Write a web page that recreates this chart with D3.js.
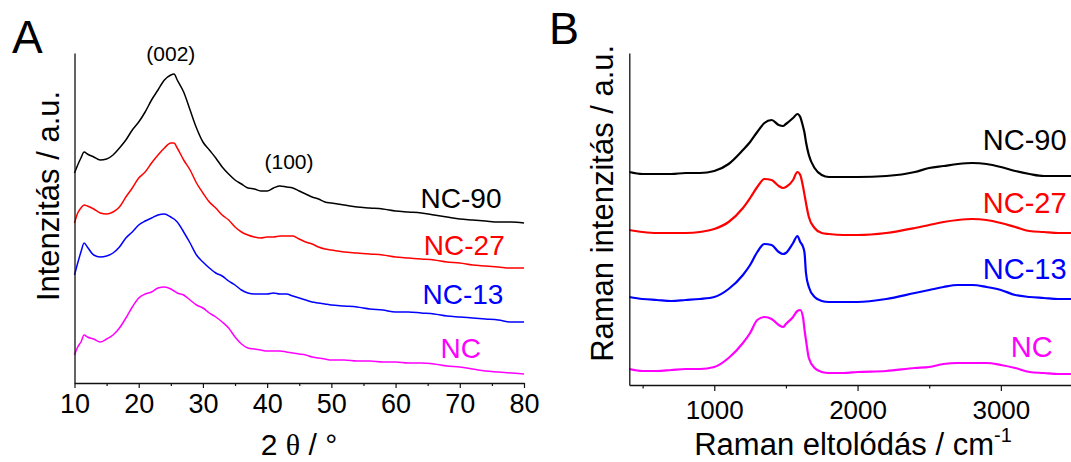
<!DOCTYPE html>
<html>
<head>
<meta charset="utf-8">
<script src="https://cdn.jsdelivr.net/npm/d3@7"></script>
<style>
  body { margin: 0; background: #fff; }
  text { font-family: "Liberation Sans", Arial, sans-serif; }
</style>
</head>
<body>
<script>
// XRD (panel A)
var xrdTheta = [10, 10.5, 11, 11.5, 12, 13, 14, 15, 16, 17, 18, 19, 20, 21, 22, 23, 24, 25, 25.5, 26, 27, 28, 29, 30,
  31, 32, 33, 34, 35, 36, 37, 38, 39, 40, 41, 42, 43, 44, 45, 46, 47, 48, 49, 50,
  52, 54, 56, 58, 60, 62, 64, 66, 68, 70, 72, 74, 76, 78, 80];
var xrdNC90 = [210, 218, 225, 231, 229, 226, 223, 224, 228, 235, 243, 253, 261, 271, 283, 293, 303, 308, 309, 303, 291, 273, 255, 241,
  233, 225, 216, 209, 203, 199, 195, 194, 192, 192, 195, 197, 196, 195, 192, 189, 186, 184, 181, 180,
  178, 176, 175, 174, 172, 171, 170, 168, 166, 164, 163, 162, 161, 161, 160];
var xrdNC27 = [160, 170, 175, 178, 177, 174, 170, 169, 171, 176, 186, 195, 205, 211, 220, 228, 235, 240, 240, 235, 223, 213, 200, 190,
  181, 175, 168, 163, 156, 151, 148, 146, 145, 146, 146, 147, 147, 147, 144, 141, 139, 136, 134, 133,
  131, 130, 129, 128, 126, 125, 124, 123, 121, 120, 118, 117, 116, 115, 115];
var xrdNC13 = [108, 120, 131, 140, 136, 128, 126, 127, 130, 136, 145, 151, 158, 162, 165, 168, 169, 166, 164, 161, 151, 140, 128, 121,
  115, 110, 107, 102, 98, 93, 90, 89, 89, 89, 90, 89, 89, 87, 85, 83, 81, 80, 79, 78,
  77, 76, 74, 73, 71, 71, 70, 69, 67, 66, 65, 64, 63, 61, 61];
var xrdNC = [28, 36, 41, 48, 46, 44, 41, 44, 48, 55, 65, 76, 85, 89, 91, 95, 96, 94, 92, 90, 88, 83, 78, 75,
  70, 66, 61, 55, 46, 39, 35, 34, 33, 32, 32, 32, 31, 30, 29, 28, 26, 25, 24, 23,
  23, 22, 22, 21, 21, 20, 20, 19, 17, 16, 14, 12, 11, 10, 9];
var xrdTicks = [10, 15, 20, 25, 30, 35, 40, 45, 50, 55, 60, 65, 70, 75, 80];

// Raman (panel B)
var ramanShift = [407, 500, 600, 700, 800, 900, 1000, 1100, 1200, 1250, 1300, 1350, 1400, 1450, 1480, 1500, 1550, 1580, 1600,
  1620, 1630, 1640, 1660, 1700, 1750, 1800, 1900, 2000, 2200, 2400, 2500, 2600, 2700, 2800, 2900, 3000, 3100, 3200, 3300, 3400, 3500];
var ramanNC90 = [213, 211, 211, 211, 212, 212, 214, 221, 235, 243, 253, 262, 265, 260, 259, 261, 267, 271, 268,
  258, 252, 243, 230, 217, 210, 208, 208, 208, 209, 213, 217, 219, 221, 222, 221, 218, 214, 211, 209, 209, 209];
var ramanNC27 = [155, 153, 152, 152, 152, 153, 156, 163, 177, 187, 198, 206, 205, 199, 197, 198, 205, 213, 210,
  198, 190, 182, 168, 157, 152, 151, 150, 150, 152, 157, 160, 163, 165, 166, 165, 162, 158, 154, 153, 152, 152];
var ramanNC13 = [88, 86, 85, 84, 85, 86, 88, 96, 110, 120, 133, 141, 140, 133, 131, 132, 142, 149, 143,
  138, 132, 112, 98, 88, 84, 83, 83, 83, 86, 92, 95, 98, 100, 100, 98, 95, 90, 88, 87, 86, 86];
var ramanNC = [16, 14, 14, 15, 16, 16, 18, 27, 42, 52, 65, 68, 66, 60, 58, 61, 68, 74, 75,
  67, 55, 45, 27, 17, 13, 12, 12, 13, 14, 17, 18, 21, 22, 22, 22, 20, 17, 13, 12, 11, 11];
var ramanTicks = [500, 1000, 1500, 2000, 2500, 3000, 3500];

var seriesNames = ["NC-90", "NC-27", "NC-13", "NC"];
var seriesColors = ["#000000", "#ff0000", "#0000ff", "#ff00ff"];

var width = 1071;
var height = 462;

var svg = d3.select("body").append("svg")
  .attr("width", width)
  .attr("height", height);

var drawPanel = function(p)
{
  var xScale = d3.scaleLinear().domain(p.xDomain).range(p.xRange);
  var yScale = d3.scaleLinear().domain(p.yDomain).range(p.yRange);

  var g = svg.append("g");

  var line = d3.line()
    .x(function(d){ return xScale(d[0]); })
    .y(function(d){ return yScale(d[1]); })
    .curve(d3.curveMonotoneX);

  p.series.forEach(function(vals, i){
    g.append("path")
      .datum(p.x.map(function(v, j){ return [v, vals[j]]; }))
      .attr("fill", "none")
      .attr("stroke", seriesColors[i])
      .attr("stroke-width", p.lineWidth)
      .attr("stroke-linejoin", "round")
      .attr("d", line);
  });

  // x axis
  var xAxis = d3.axisBottom(xScale)
    .tickValues(p.ticks)
    .tickSize(p.majorTick)
    .tickSizeOuter(0)
    .tickPadding(p.tickPad)
    .tickFormat(function(d){ return p.isMajor(d) ? d : ""; });

  var xg = g.append("g")
    .attr("transform", "translate(0," + p.yRange[0] + ")")
    .call(xAxis);
  xg.select(".domain").attr("stroke", "#111").attr("stroke-width", 1.3);
  xg.selectAll(".tick line")
    .attr("stroke", "#111")
    .attr("stroke-width", 1.2)
    .attr("y2", function(d){ return p.isMajor(d) ? p.majorTick : p.minorTick; });
  xg.selectAll(".tick text")
    .attr("fill", "#000")
    .style("font-family", "Liberation Sans, Arial, sans-serif")
    .style("font-size", p.tickFont + "px");

  // y axis: bare line
  var yg = g.append("g")
    .attr("transform", "translate(" + p.xRange[0] + ",0)")
    .call(d3.axisLeft(yScale).tickValues([]).tickSizeOuter(0));
  yg.select(".domain").attr("stroke", "#111").attr("stroke-width", 1.3);

  // series labels
  p.labels.forEach(function(l, i){
    g.append("text")
      .attr("x", xScale(l[0]))
      .attr("y", yScale(l[1]))
      .attr("text-anchor", "end")
      .attr("fill", seriesColors[i])
      .style("font-size", p.labelFont + "px")
      .text(seriesNames[i]);
  });

  return {x: xScale, y: yScale, g: g};
}

var A = drawPanel({
  x: xrdTheta,
  series: [xrdNC90, xrdNC27, xrdNC13, xrdNC],
  xDomain: [10, 80], xRange: [74.5, 524],
  yDomain: [0, 330], yRange: [383, 53],
  ticks: xrdTicks,
  isMajor: function(d){ return d % 10 === 0; },
  majorTick: 5, minorTick: 3, tickPad: 6, tickFont: 27,
  lineWidth: 1.5,
  labels: [[76.5, 174.7], [77.0, 128], [76.8, 79.5], [73.3, 25.3]],
  labelFont: 28
});

var B = drawPanel({
  x: ramanShift,
  series: [ramanNC90, ramanNC27, ramanNC13, ramanNC],
  xDomain: [407, 3500], xRange: [629.3, 1072.5],
  yDomain: [0, 332], yRange: [385, 53],
  ticks: ramanTicks,
  isMajor: function(d){ return d % 1000 === 0; },
  majorTick: 6, minorTick: 3.5, tickPad: 10, tickFont: 26,
  lineWidth: 2.2,
  labels: [[3459, 235], [3459, 172.3], [3459, 106], [3361, 27.7]],
  labelFont: 29
});

// peak annotations in panel A
A.g.append("text").attr("x", A.x(25)).attr("y", A.y(322)).attr("text-anchor", "middle")
  .style("font-size", "21px").text("(002)");
A.g.append("text").attr("x", A.x(43.4)).attr("y", A.y(214)).attr("text-anchor", "middle")
  .style("font-size", "21px").text("(100)");

// axis titles
var xt = svg.append("text").attr("x", 299).attr("y", 455).attr("text-anchor", "middle")
  .style("font-size", "30px");
xt.append("tspan").text("2 ");
xt.append("tspan").style("font-family", "Liberation Serif, DejaVu Serif, serif").text("θ");
xt.append("tspan").text(" / °");

svg.append("text")
  .attr("transform", "translate(58.5,196) rotate(-90)")
  .attr("text-anchor", "middle")
  .style("font-size", "31px")
  .text("Intenzitás / a.u.");

var bt = svg.append("text").attr("x", 853).attr("y", 455).attr("text-anchor", "middle")
  .style("font-size", "31px");
bt.append("tspan").text("Raman eltolódás / cm");
bt.append("tspan").attr("dy", -13).style("font-size", "20px").text("-1");

svg.append("text")
  .attr("transform", "translate(612.8,203.3) rotate(-90)")
  .attr("text-anchor", "middle")
  .style("font-size", "31px")
  .text("Raman intenzitás / a.u.");

// panel letters
svg.append("text").attr("x", 12).attr("y", 53).style("font-size", "46px").text("A");
svg.append("text").attr("x", 549).attr("y", 44).style("font-size", "45px").text("B");
</script>
</body>
</html>
